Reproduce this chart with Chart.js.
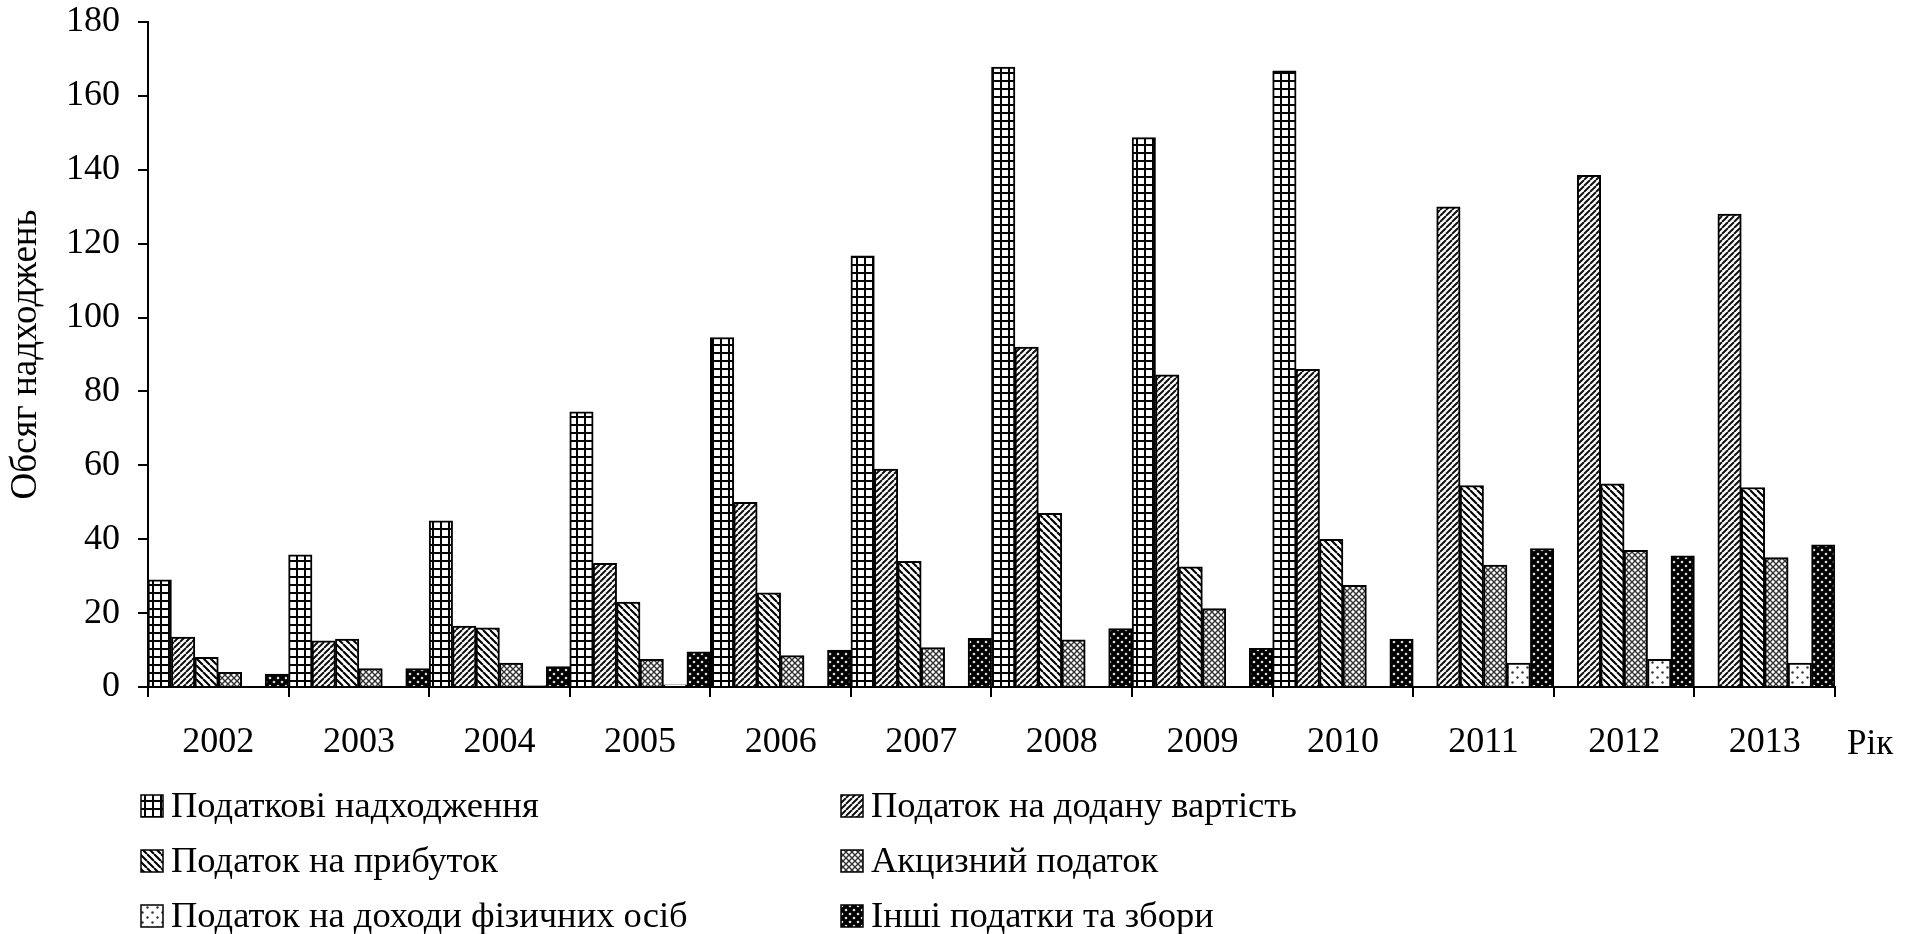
<!DOCTYPE html>
<html lang="uk">
<head>
<meta charset="utf-8">
<title>Податкові надходження 2002–2013</title>
<script src="https://cdn.jsdelivr.net/npm/chart.js@4.4.1/dist/chart.umd.min.js"></script>
<style>
    html, body { margin: 0; padding: 0; background: #fff; }
    #wrap { width: 1910px; height: 934px; }
</style>
</head>
<body>
<div id="wrap"><canvas id="taxChart" width="1910" height="934"></canvas></div>
<script>
// роки та обсяги надходжень за видами податків
const years = ['2002', '2003', '2004', '2005', '2006', '2007', '2008', '2009', '2010', '2011', '2012', '2013'];

const taxRevenue = [29, 35.8, 45, 74.5, 94.6, 116.7, 167.8, 148.7, 166.8, null, null, null];
const vat = [13.5, 12.5, 16.5, 33.5, 50, 59, 92, 84.5, 86, 130, 138.5, 128];
const profitTax = [8, 13, 16, 23, 25.5, 34, 47, 32.5, 40, 54.5, 55, 54];
const exciseTax = [4, 5, 6.5, 7.5, 8.5, 10.7, 12.8, 21.2, 27.5, 33, 37, 35];
const incomeTax = [null, null, 0.4, 0.6, null, null, null, null, null, 6.5, 7.5, 6.5];
const otherTaxes = [3.5, 5, 5.5, 9.5, 10, 13.2, 15.8, 10.5, 13, 37.5, 35.5, 38.5];

const seriesNames = [
    'Податкові надходження',
    'Податок на додану вартість',
    'Податок на прибуток',
    'Акцизний податок',
    'Податок на доходи фізичних осіб',
    'Інші податки та збори'
];

const yTicksMax = 180;
const yTicksStep = 20;
const xUnitLabel = 'Рік';
const yTitle = 'Обсяг надходжень';

const FONT = "'Liberation Serif', 'Times New Roman', serif";

// штриховки для стовпців
function makeTile(size, draw) {
    const c = document.createElement('canvas');
    c.width = size;
    c.height = size;
    const g = c.getContext('2d');
    draw(g, size);
    return document.createElement('canvas').getContext('2d').createPattern(c, 'repeat');
}

const gridPattern = makeTile(8, (g, s) => {
    g.fillStyle = '#fff';
    g.fillRect(0, 0, s, s);
    g.fillStyle = '#000';
    g.fillRect(0, 0, s, 2);
    g.fillRect(0, 0, 2, s);
});

function diagonal(g, s, forward, width, color) {
    g.strokeStyle = color;
    g.lineWidth = width;
    g.beginPath();
    for (let k = -1; k <= 1; k++) {
        if (forward) {
            g.moveTo(k * s, s);
            g.lineTo(k * s + s, 0);
        } else {
            g.moveTo(k * s, 0);
            g.lineTo(k * s + s, s);
        }
    }
    g.stroke();
}

const slashPattern = makeTile(6, (g, s) => {
    g.fillStyle = '#fff';
    g.fillRect(0, 0, s, s);
    diagonal(g, s, true, 2, '#111');
});

const backslashPattern = makeTile(7, (g, s) => {
    g.fillStyle = '#fff';
    g.fillRect(0, 0, s, s);
    diagonal(g, s, false, 2.1, '#000');
});

const crossPattern = makeTile(6, (g, s) => {
    g.fillStyle = '#fff';
    g.fillRect(0, 0, s, s);
    diagonal(g, s, true, 1.4, '#333');
    diagonal(g, s, false, 1.4, '#333');
});

const dotPattern = makeTile(10, (g, s) => {
    g.fillStyle = '#fff';
    g.fillRect(0, 0, s, s);
    g.fillStyle = '#333';
    [[2.5, 2.5], [7.5, 7.5]].forEach(([x, y]) => {
        g.beginPath();
        g.arc(x, y, 1.2, 0, Math.PI * 2);
        g.fill();
    });
});

const darkDotPattern = makeTile(8, (g, s) => {
    g.fillStyle = '#000';
    g.fillRect(0, 0, s, s);
    g.fillStyle = '#ddd';
    [[2, 2], [6, 6]].forEach(([x, y]) => {
        g.beginPath();
        g.arc(x, y, 1.3, 0, Math.PI * 2);
        g.fill();
    });
});

const fills = [gridPattern, slashPattern, backslashPattern, crossPattern, dotPattern, darkDotPattern];
const values = [taxRevenue, vat, profitTax, exciseTax, incomeTax, otherTaxes];

const datasets = values.map((data, i) => ({
    label: seriesNames[i],
    data: data,
    backgroundColor: fills[i],
    borderColor: '#000',
    borderWidth: 2,
    categoryPercentage: 1.0,
    barPercentage: 1.0
}));

// легенда у дві колонки під графіком
const legendGrid = {
    id: 'legendGrid',
    afterDraw(chart) {
        const ctx = chart.ctx;
        const colX = [141, 841];
        const rowY = [806, 861, 916];
        const box = 22;
        ctx.save();
        ctx.font = `36.5px ${FONT}`;
        ctx.textBaseline = 'middle';
        ctx.textAlign = 'left';
        chart.data.datasets.forEach((ds, i) => {
            const x = colX[i % 2];
            const y = rowY[Math.floor(i / 2)];
            ctx.fillStyle = ds.backgroundColor;
            ctx.fillRect(x, y - box / 2, box, box);
            ctx.strokeStyle = '#000';
            ctx.lineWidth = 1.5;
            ctx.strokeRect(x, y - box / 2, box, box);
            ctx.fillStyle = '#000';
            ctx.fillText(ds.label, x + box + 8, y + 1);
        });
        ctx.restore();
    }
};

// підпис одиниці осі X праворуч від осі
const axisUnit = {
    id: 'axisUnit',
    afterDraw(chart) {
        const ctx = chart.ctx;
        const area = chart.chartArea;
        ctx.save();
        ctx.font = `35px ${FONT}`;
        ctx.fillStyle = '#000';
        ctx.textAlign = 'left';
        ctx.textBaseline = 'middle';
        ctx.fillText(xUnitLabel, area.right + 12, area.bottom + 58);
        ctx.restore();
    }
};

new Chart(document.getElementById('taxChart'), {
    type: 'bar',
    data: { labels: years, datasets: datasets },
    plugins: [legendGrid, axisUnit],
    options: {
        responsive: false,
        animation: false,
        layout: { padding: { top: 22, right: 75, left: 0, bottom: 0 } },
        plugins: {
            legend: { display: false },
            tooltip: { enabled: false }
        },
        scales: {
            x: {
                afterFit: s => { s.height = 247; },
                grid: {
                    display: true,
                    drawOnChartArea: false,
                    drawTicks: true,
                    tickLength: 10,
                    offset: true,
                    color: '#000',
                    lineWidth: 2
                },
                border: { display: true, color: '#000', width: 2 },
                ticks: {
                    color: '#000',
                    font: { family: FONT, size: 36 },
                    padding: 24,
                    maxRotation: 0,
                    autoSkip: false
                }
            },
            y: {
                min: 0,
                max: yTicksMax,
                afterFit: s => {
                    s.width = 148;
                    s.paddingTop = 0;
                    s.paddingBottom = 0;
                },
                grid: {
                    display: true,
                    drawOnChartArea: false,
                    drawTicks: true,
                    tickLength: 10,
                    color: '#000',
                    lineWidth: 2
                },
                border: { display: true, color: '#000', width: 2 },
                ticks: {
                    stepSize: yTicksStep,
                    color: '#000',
                    font: { family: FONT, size: 36 },
                    padding: 18
                },
                title: {
                    display: true,
                    text: yTitle,
                    color: '#000',
                    font: { family: FONT, size: 37 },
                    padding: { top: 4, bottom: 0 }
                }
            }
        }
    }
});
</script>
</body>
</html>
